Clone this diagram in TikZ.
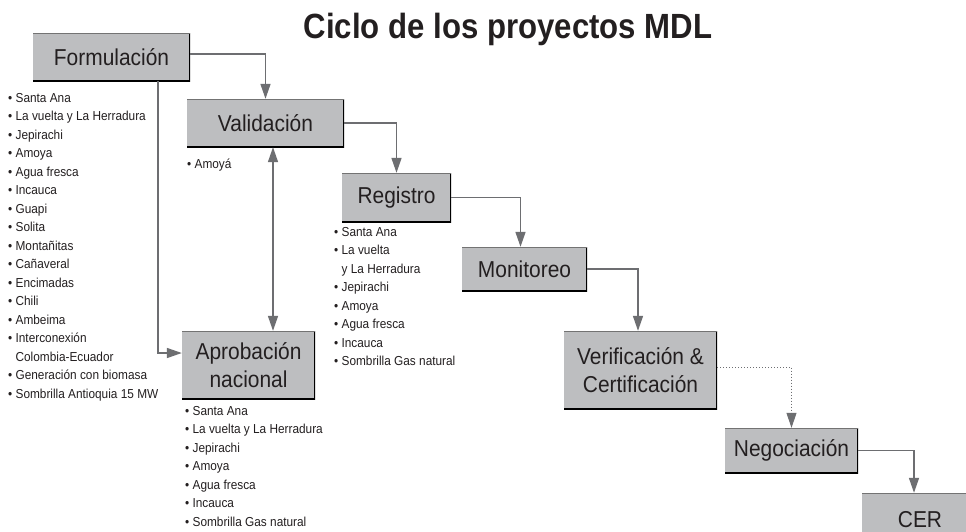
\documentclass[tikz,border=0pt]{standalone}
\usepackage{fontspec}
\setmainfont{Liberation Sans}[FakeStretch=0.91]
\newfontfamily\titlefont{Liberation Sans}[FakeStretch=0.89]
\usetikzlibrary{arrows.meta}
\definecolor{boxgray}{HTML}{BDBEC0}
\definecolor{linegray}{HTML}{6D6E71}
\definecolor{ink}{HTML}{231F20}
\begin{document}
\begin{tikzpicture}[x=1pt,y=-1pt,
  >={Triangle[width=10pt,length=15pt]},
  stepbox/.style={fill=boxgray, inner sep=0pt, text=ink, align=center,
    font=\fontsize{23}{28.5}\selectfont,
    path picture={
      \draw[black,line width=2pt] (path picture bounding box.north east) -- (path picture bounding box.south east) -- (path picture bounding box.south west);
      \draw[black!55,line width=1pt] (path picture bounding box.north west) -- (path picture bounding box.north east);}},
  itemlist/.style={inner sep=0pt, anchor=north west, align=left, text=ink,
    font=\fontsize{13}{18.5}\selectfont},
  conn/.style={draw=linegray, line width=1.5pt, ->},
  dotconn/.style={draw=linegray, line width=1pt, dotted, ->}
]
\useasboundingbox (0,0) rectangle (966,531);
\clip (0,0) rectangle (966,531);
\fill[white] (0,0) rectangle (966,531);

\node[font=\titlefont\bfseries\fontsize{35}{40}\selectfont, text=ink, anchor=base] (title) at (508,38) {Ciclo de los proyectos MDL};

\node[stepbox, minimum width=157pt, minimum height=48pt] (form) at (111.5,57) {Formulación};
\node[stepbox, minimum width=157pt, minimum height=48pt] (valid) at (265.5,123) {Validación};
\node[stepbox, minimum width=109pt, minimum height=49pt] (reg) at (396.5,197.5) {Registro};
\node[stepbox, minimum width=125pt, minimum height=44pt] (mon) at (524.5,269) {Monitoreo};
\node[stepbox, minimum width=133pt, minimum height=68pt] (aprob) at (248.5,365) {Aprobación\\nacional};
\node[stepbox, minimum width=153pt, minimum height=78pt] (ver) at (640.5,370) {Verificación \&\\Certificación};
\node[stepbox, minimum width=133pt, minimum height=45pt] (neg) at (791.5,450.5) {Negociación};
\node[stepbox, minimum width=118pt, minimum height=71pt] (cerbox) at (921,528.5) {};
\node[inner sep=0pt, text=ink, font=\fontsize{23}{28.5}\selectfont] (cer) at (920,520) {CER};

\node[itemlist] (lform) at (8,93) {• Santa Ana\\• La vuelta y La Herradura\\• Jepirachi\\• Amoya\\• Agua fresca\\• Incauca\\• Guapi\\• Solita\\• Montañitas\\• Cañaveral\\• Encimadas\\• Chili\\• Ambeima\\• Interconexión\\\phantom{• }Colombia-Ecuador\\• Generación con biomasa\\• Sombrilla Antioquia 15 MW};
\node[itemlist] (lvalid) at (187,159) {• Amoyá};
\node[itemlist] (lreg) at (334,227) {• Santa Ana\\• La vuelta\\\phantom{• }y La Herradura\\• Jepirachi\\• Amoya\\• Agua fresca\\• Incauca\\• Sombrilla Gas natural};
\node[itemlist] (laprob) at (185,406) {• Santa Ana\\• La vuelta y La Herradura\\• Jepirachi\\• Amoya\\• Agua fresca\\• Incauca\\• Sombrilla Gas natural};

\draw[conn] ([yshift=3pt]form.east) -| (valid.north);
\draw[conn] ([xshift=-32pt]form.south east) |- ([yshift=12pt]aprob.west);
\draw[conn,<->] ([xshift=7.5pt]valid.south) coordinate (vs) -- (vs |- aprob.north);
\draw[conn] (valid.east) -| (reg.north);
\draw[conn] (reg.east) -| ([xshift=-4pt]mon.north);
\draw[conn] (mon.east) -| ([xshift=-2.5pt]ver.north);
\draw[dotconn] ([yshift=3pt]ver.east) -| (neg.north);
\draw[conn] (neg.east) -| ([xshift=-7pt]cerbox.north);
\end{tikzpicture}
\end{document}
